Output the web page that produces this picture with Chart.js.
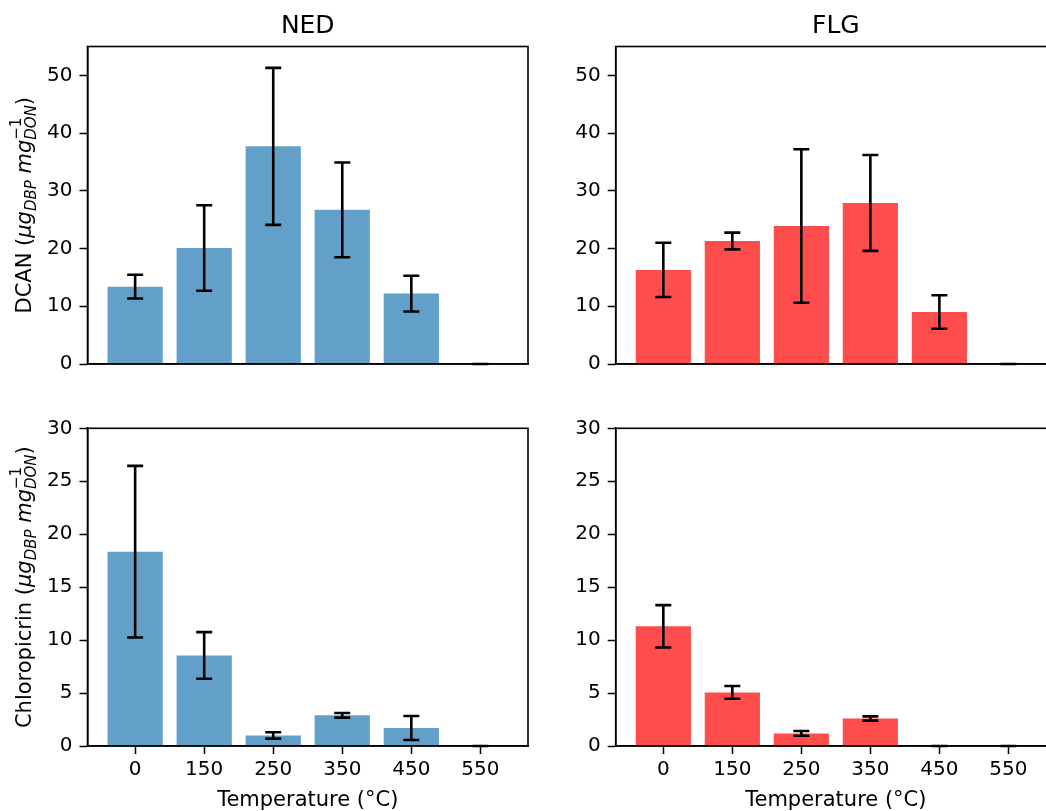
<!DOCTYPE html>
<html>
<head>
<meta charset="utf-8">
<script src="https://cdn.jsdelivr.net/npm/chart.js@4.4.1/dist/chart.umd.min.js"></script>
<style>
  html,body{margin:0;padding:0;background:#fff;overflow:hidden;width:1046px;height:811px;}
  canvas{position:absolute;}
</style>
</head>
<body>
<canvas id="c1" width="540" height="396" style="left:0px;top:0px"></canvas>
<canvas id="c2" width="540" height="396" style="left:528px;top:0px"></canvas>
<canvas id="c3" width="540" height="415" style="left:0px;top:396px"></canvas>
<canvas id="c4" width="540" height="415" style="left:528px;top:396px"></canvas>
<script>
// data
var temps=["0","150","250","350","450","550"];
var nedDcan=[13.4,20.1,37.7,26.7,12.2,0];
var nedDcanErr=[2.05,7.4,13.6,8.2,3.1,0];
var flgDcan=[16.3,21.3,23.9,27.9,9.0,0];
var flgDcanErr=[4.7,1.45,13.3,8.3,2.9,0];
var nedCp=[18.35,8.55,1.0,2.9,1.7,0];
var nedCpErr=[8.1,2.2,0.3,0.22,1.13,0];
var flgCp=[11.3,5.06,1.19,2.6,0,0];
var flgCpErr=[2.0,0.6,0.22,0.2,0,0];

var FONT="'DejaVu Sans', sans-serif";
var blue="rgba(31,119,180,0.7)";
var red="rgba(255,0,0,0.7)";

// draws y label with sub/superscripts, rotated
function drawYLabel(ctx,name,cx,cy){
    var big=21, small=15;
    var segs=[
        {t:name+" (",f:big+"px "+FONT,dy:0},
        {t:"\u03bcg",f:"italic "+big+"px "+FONT,dy:0},
        {t:"DBP",f:"italic "+small+"px "+FONT,dy:5},
        {t:" ",f:big+"px "+FONT,dy:0},
        {t:"mg",f:"italic "+big+"px "+FONT,dy:0},
        {t:"\u22121",f:small+"px "+FONT,dy:-10,stack:true},
        {t:"DON",f:"italic "+small+"px "+FONT,dy:5},
        {t:")",f:big+"px "+FONT,dy:0}
    ];
    var total=0;
    for(var i=0;i<segs.length;i++){
        ctx.font=segs[i].f;
        segs[i].w=ctx.measureText(segs[i].t).width;
        if(!segs[i].stack) total+=segs[i].w;
    }
    ctx.save();
    ctx.translate(cx,cy);
    ctx.rotate(-Math.PI/2);
    ctx.fillStyle="#000";
    ctx.textBaseline="alphabetic";
    ctx.textAlign="left";
    var x=-total/2;
    for(var i=0;i<segs.length;i++){
        ctx.font=segs[i].f;
        ctx.fillText(segs[i].t,x,segs[i].dy);
        if(!segs[i].stack) x+=segs[i].w;
    }
    ctx.restore();
}

var panelPlugin={
    id:"panel",
    afterDatasetsDraw:function(chart){
        var o=chart.options.plugins.panel;
        var ctx=chart.ctx;
        var a=chart.chartArea;
        var ys=chart.scales.y;
        var meta=chart.getDatasetMeta(0);
        // error bars
        ctx.save();
        ctx.strokeStyle="#000";
        ctx.lineWidth=2.6;
        for(var i=0;i<meta.data.length;i++){
            var bx=meta.data[i].x;
            var v=o.values[i], e=o.errors[i];
            var yt=ys.getPixelForValue(v+e), yb=ys.getPixelForValue(v-e);
            ctx.beginPath();
            ctx.moveTo(bx,yt);ctx.lineTo(bx,yb);
            ctx.moveTo(bx-8,yt);ctx.lineTo(bx+8,yt);
            ctx.moveTo(bx-8,yb);ctx.lineTo(bx+8,yb);
            ctx.stroke();
        }
        // box
        ctx.lineWidth=1.6;
        ctx.strokeStyle="#000";
        ctx.strokeRect(a.left,a.top,a.right-a.left,a.bottom-a.top);
        // texts
        ctx.fillStyle="#000";
        if(o.title){
            ctx.font="25px "+FONT;
            ctx.textAlign="center";
            ctx.textBaseline="alphabetic";
            ctx.fillText(o.title,(a.left+a.right)/2,33);
        }
        if(o.xlabel){
            ctx.font="21px "+FONT;
            ctx.textAlign="center";
            ctx.textBaseline="alphabetic";
            ctx.fillText(o.xlabel,(a.left+a.right)/2,a.bottom+60);
        }
        if(o.ylabel){
            drawYLabel(ctx,o.ylabel,31,(a.top+a.bottom)/2);
        }
        ctx.restore();
    }
};

function makePanel(id,vals,errs,color,ymax,ystep,opts){
    var ctx=document.getElementById(id).getContext("2d");
    var bottom=opts.xlabel?true:false;
    var yticks=[];
    for(var t=0;t<=ymax;t+=ystep){yticks.push({value:t});}
    return new Chart(ctx,{
        type:"bar",
        data:{
            datasets:[{
                data:vals.map(function(v,i){return {x:i,y:v};}),
                backgroundColor:color,
                borderWidth:0,
                barPercentage:0.8,
                categoryPercentage:1.0
            }]
        },
        options:{
            responsive:false,
            animation:false,
            devicePixelRatio:1,
            layout:{padding:{top:opts.top,right:12,left:0,bottom:0}},
            plugins:{
                legend:{display:false},
                tooltip:{enabled:false},
                panel:{values:vals,errors:errs,title:opts.title,xlabel:opts.xlabel,ylabel:opts.ylabel}
            },
            scales:{
                x:{
                    type:"linear",
                    offset:false,
                    min:-0.69,max:5.69,
                    afterBuildTicks:function(s){s.ticks=temps.map(function(t,i){return {value:i};});},
                    afterFit:function(s){s.height=bottom?65:32;},
                    grid:{display:true,offset:false,drawOnChartArea:false,drawTicks:bottom,tickLength:8,tickWidth:1.5,tickColor:"#000"},
                    border:{display:true,color:"#000",width:1.6},
                    ticks:{
                        display:bottom,
                        padding:4,
                        color:"#000",
                        font:{family:FONT,size:20},
                        callback:function(v){return temps[v];}
                    }
                },
                y:{
                    min:0,max:ymax,
                    afterBuildTicks:function(s){s.ticks=yticks.slice();},
                    afterFit:function(s){s.width=opts.yw;},
                    grid:{display:true,drawOnChartArea:false,drawTicks:true,tickLength:8,tickWidth:1.5,tickColor:"#000"},
                    border:{display:true,color:"#000",width:1.6},
                    ticks:{
                        padding:7,
                        color:"#000",
                        font:{family:FONT,size:20},
                        callback:function(v){return v;}
                    }
                }
            }
        },
        plugins:[panelPlugin]
    });
}

makePanel("c1",nedDcan,nedDcanErr,blue,55,10,{top:46.5,yw:87.5,title:"NED",ylabel:"DCAN"});
makePanel("c2",flgDcan,flgDcanErr,red,55,10,{top:46.5,yw:87.7,title:"FLG"});
makePanel("c3",nedCp,nedCpErr,blue,30,5,{top:32.3,yw:87.5,xlabel:"Temperature (\u00b0C)",ylabel:"Chloropicrin"});
makePanel("c4",flgCp,flgCpErr,red,30,5,{top:32.3,yw:87.7,xlabel:"Temperature (\u00b0C)"});
</script>
</body>
</html>
